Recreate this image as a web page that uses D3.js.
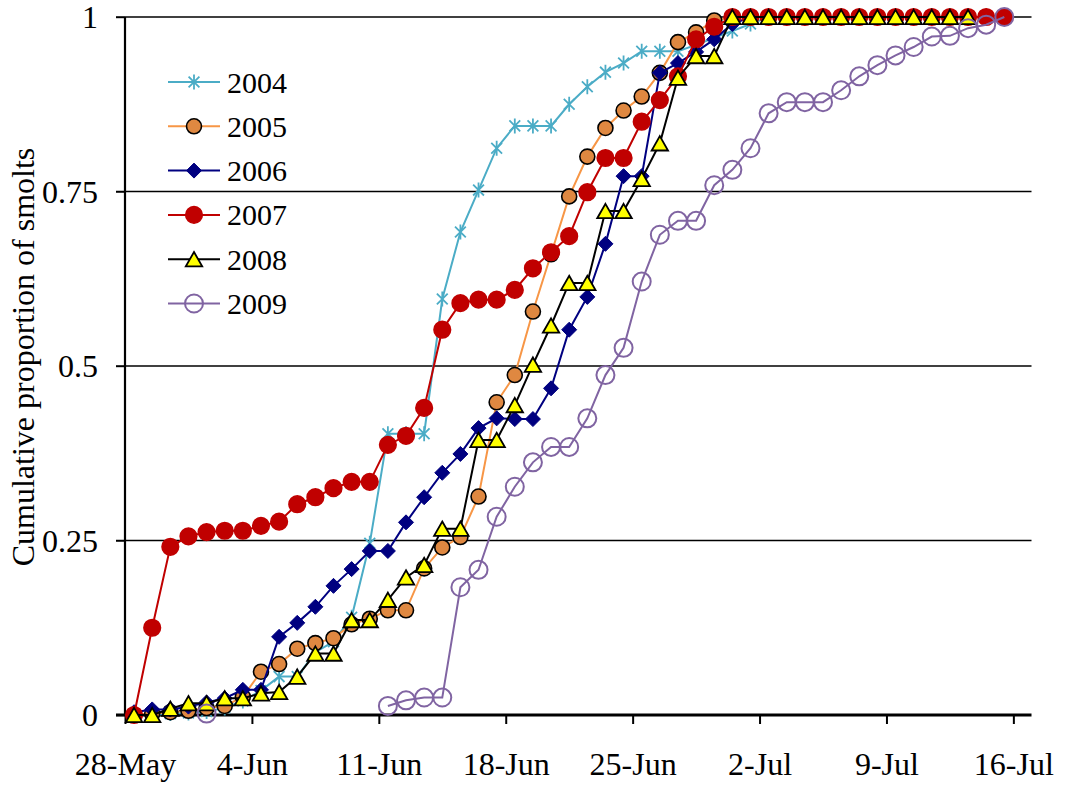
<!DOCTYPE html>
<html>
<head>
<meta charset="utf-8">
<script src="https://cdn.jsdelivr.net/npm/d3@7"></script>
<style>
  html, body { margin: 0; padding: 0; background: #fff; }
  svg { display: block; }
  text { font-family: "Liberation Serif", "Times New Roman", serif; fill: #000; }
</style>
</head>
<body>
<svg id="chart" width="1068" height="785"></svg>
<script>
// Daily sampling dates (one value per day, 28 May to 15 July)
const days = [
  "05-28","05-29","05-30","05-31","06-01","06-02","06-03","06-04","06-05","06-06",
  "06-07","06-08","06-09","06-10","06-11","06-12","06-13","06-14","06-15","06-16",
  "06-17","06-18","06-19","06-20","06-21","06-22","06-23","06-24","06-25","06-26",
  "06-27","06-28","06-29","06-30","07-01","07-02","07-03","07-04","07-05","07-06",
  "07-07","07-08","07-09","07-10","07-11","07-12","07-13","07-14","07-15"
];

// Cumulative proportion of smolts per day, one array per year (null = no sample)
const y2004 = [0, 0, 0.002, 0.003, 0.005, 0.01, 0.02, 0.035, 0.055, 0.055,
  0.09, 0.105, 0.14, 0.246, 0.403, 0.403, 0.403, 0.596, 0.692, 0.752,
  0.812, 0.844, 0.844, 0.844, 0.875, 0.90, 0.921, 0.934, 0.951, 0.951,
  0.951, 0.96, 0.97, 0.98, 0.99, 1, 1, 1, 1, 1,
  1, 1, 1, 1, 1, 1, 1, 1, 1];
const y2005 = [0, 0.002, 0.004, 0.006, 0.01, 0.013, 0.026, 0.062, 0.073, 0.095,
  0.103, 0.11, 0.13, 0.138, 0.15, 0.15, 0.21, 0.24, 0.255, 0.313,
  0.448, 0.487, 0.578, 0.66, 0.743, 0.80, 0.841, 0.866, 0.886, 0.92,
  0.964, 0.978, 0.995, 1, 1, 1, 1, 1, 1, 1,
  1, 1, 1, 1, 1, 1, 1, 1, 1];
const y2006 = [0.004, 0.008, 0.008, 0.012, 0.018, 0.024, 0.036, 0.036, 0.112, 0.132,
  0.155, 0.185, 0.209, 0.235, 0.235, 0.276, 0.312, 0.347, 0.374, 0.411,
  0.425, 0.424, 0.424, 0.468, 0.552, 0.599, 0.675, 0.772, 0.772, 0.92,
  0.934, 0.95, 0.968, 0.99, 1, 1, 1, 1, 1, 1,
  1, 1, 1, 1, 1, 1, 1, 1, 1];
const y2007 = [0, 0.125, 0.241, 0.256, 0.262, 0.264, 0.264, 0.271, 0.277, 0.302,
  0.312, 0.325, 0.334, 0.334, 0.387, 0.40, 0.44, 0.552, 0.59, 0.595,
  0.595, 0.609, 0.64, 0.663, 0.686, 0.749, 0.798, 0.798, 0.85, 0.881,
  0.915, 0.968, 0.986, 1, 1, 1, 1, 1, 1, 1,
  1, 1, 1, 1, 1, 1, 1, 1, 1];
const y2008 = [0, 0, 0.009, 0.017, 0.017, 0.024, 0.024, 0.031, 0.033, 0.055,
  0.088, 0.088, 0.136, 0.136, 0.165, 0.197, 0.215, 0.267, 0.267, 0.394,
  0.394, 0.444, 0.502, 0.558, 0.619, 0.619, 0.722, 0.722, 0.768, 0.819,
  0.913, 0.944, 0.944, 1, 1, 1, 1, 1, 1, 1,
  1, 1, 1, 1, 1, 1, 1, null, null];
const y2009 = [null, null, null, null, 0.002, null, null, null, null, null,
  null, null, null, null, 0.013, 0.021, 0.025, 0.025, 0.183, 0.208,
  0.284, 0.327, 0.362, 0.384, 0.384, 0.425, 0.487, 0.526, 0.621, 0.688,
  0.708, 0.708, 0.759, 0.781, 0.812, 0.862, 0.878, 0.878, 0.878, 0.895,
  0.915, 0.931, 0.945, 0.957, 0.972, 0.973, 0.984, 0.989, 1.0];

const years = ["2004", "2005", "2006", "2007", "2008", "2009"];
const yTicks = [0, 0.25, 0.5, 0.75, 1];
const xTickLabels = ["28-May", "4-Jun", "11-Jun", "18-Jun", "25-Jun", "2-Jul", "9-Jul", "16-Jul"];

// Series appearance
const styles = {
  "2004": { values: y2004, line: "#4BACC6", shape: "star",     fill: "none",    stroke: "#4BACC6", size: 7.5 },
  "2005": { values: y2005, line: "#F79646", shape: "circle",   fill: "#DF8841", stroke: "#000",    size: 7.5 },
  "2006": { values: y2006, line: "#000080", shape: "diamond",  fill: "#000080", stroke: "#000080", size: 7.5 },
  "2007": { values: y2007, line: "#C00000", shape: "circle",   fill: "#C00000", stroke: "#C00000", size: 8.3 },
  "2008": { values: y2008, line: "#000000", shape: "triangle", fill: "#FFFF00", stroke: "#000",    size: 8.2 },
  "2009": { values: y2009, line: "#8064A2", shape: "ring",     fill: "none",    stroke: "#8064A2", size: 9 }
};

const svg = d3.select("#chart");
const parse = d3.utcParse("%Y-%m-%d");
const dates = days.map(d => parse("2009-" + d));
const fmt = d3.utcFormat("%-d-%b");

const x0 = 125, x1 = 1031.5, yTop = 17, yBot = 715;
const x = d3.scaleUtc()
  .domain([parse("2009-05-28"), parse("2009-07-17")])
  .range([x0, x1]);
const y = d3.scaleLinear().domain([0, 1]).range([yBot, yTop]);
// each daily value sits in the middle of its day
const xc = dt => x(d3.utcHour.offset(dt, 12));

// Horizontal gridlines
svg.append("g")
  .selectAll("line")
  .data(yTicks.filter(v => v > 0))
  .join("line")
  .attr("x1", x0 - 9).attr("x2", x1)
  .attr("y1", d => y(d)).attr("y2", d => y(d))
  .attr("stroke", "#000").attr("stroke-width", 1.4);

// Y axis
const yAxis = svg.append("g")
  .attr("transform", `translate(${x0},0)`)
  .call(d3.axisLeft(y).tickValues(yTicks).tickFormat(d => String(d)).tickSize(9).tickPadding(18));
yAxis.select(".domain").attr("stroke", "#000").attr("stroke-width", 2.2).attr("d", `M0,${yTop}V${yBot}`);
yAxis.selectAll(".tick line").attr("stroke", "#000").attr("stroke-width", 1.4);
yAxis.selectAll("text").style("font-family", "Liberation Serif").style("font-size", "32px").attr("dy", "0.34em");

// X axis
const tickDates = xTickLabels.map(s => d3.utcParse("%d-%b-%Y")(s + "-2009"));
const xAxis = svg.append("g")
  .attr("transform", `translate(0,${yBot})`)
  .call(d3.axisBottom(x).tickValues(tickDates).tickFormat(fmt).tickSize(9).tickPadding(28));
xAxis.select(".domain").attr("stroke", "#000").attr("stroke-width", 3).attr("d", `M${x0 - 9},0H${x1}`);
xAxis.selectAll(".tick line").attr("stroke", "#000").attr("stroke-width", 2);
xAxis.selectAll("text").style("font-family", "Liberation Serif").style("font-size", "32px");

// Y axis title
svg.append("text")
  .attr("transform", "translate(34,357) rotate(-90)")
  .attr("text-anchor", "middle")
  .style("font-size", "32px")
  .text("Cumulative proportion of smolts");

// Marker drawing
function drawMarker(sel, st) {
  const r = st.size;
  if (st.shape === "circle" || st.shape === "ring") {
    sel.append("circle").attr("r", r)
      .attr("fill", st.fill).attr("stroke", st.stroke)
      .attr("stroke-width", st.shape === "ring" ? 2 : 1.6);
  } else if (st.shape === "diamond") {
    sel.append("path").attr("d", `M0,${-r}L${r},0L0,${r}L${-r},0Z`)
      .attr("fill", st.fill).attr("stroke", st.stroke).attr("stroke-width", 1);
  } else if (st.shape === "triangle") {
    const h = r * 1.75;
    sel.append("path").attr("d", `M0,${-h / 2}L${r},${h / 2}L${-r},${h / 2}Z`)
      .attr("fill", st.fill).attr("stroke", st.stroke).attr("stroke-width", 1.8)
      .attr("stroke-linejoin", "miter");
  } else if (st.shape === "star") {
    const a = r * 0.72;
    sel.append("path").attr("d", `M0,${-r}V${r}M${-a},${-a}L${a},${a}M${-a},${a}L${a},${-a}`)
      .attr("fill", "none").attr("stroke", st.stroke).attr("stroke-width", 1.8);
  }
}

// Series: line first, then markers on top
const line = d3.line()
  .defined(d => d.v !== null)
  .x(d => xc(d.date))
  .y(d => y(d.v));

years.forEach(yr => {
  const st = styles[yr];
  const pts = dates.map((date, i) => ({ date, v: st.values[i] === undefined ? null : st.values[i] }));
  const g = svg.append("g").attr("class", "series-" + yr);
  g.append("path")
    .datum(pts)
    .attr("d", line)
    .attr("fill", "none")
    .attr("stroke", st.line)
    .attr("stroke-width", 2);
  g.selectAll("g.m")
    .data(pts.filter(p => p.v !== null))
    .join("g").attr("class", "m")
    .attr("transform", d => `translate(${xc(d.date)},${y(d.v)})`)
    .each(function () { drawMarker(d3.select(this), st); });
});

// Legend
const legend = svg.append("g");
years.forEach((yr, i) => {
  const st = styles[yr];
  const cy = 82 + i * 44.3;
  const row = legend.append("g").attr("transform", `translate(0,${cy})`);
  row.append("line").attr("x1", 168).attr("x2", 220).attr("y1", 0).attr("y2", 0)
    .attr("stroke", st.line).attr("stroke-width", 2);
  drawMarker(row.append("g").attr("transform", "translate(194,0)"), st);
  row.append("text").attr("x", 227).attr("y", 0).attr("dy", "0.35em")
    .style("font-size", "30px").text(yr);
});
</script>
</body>
</html>
